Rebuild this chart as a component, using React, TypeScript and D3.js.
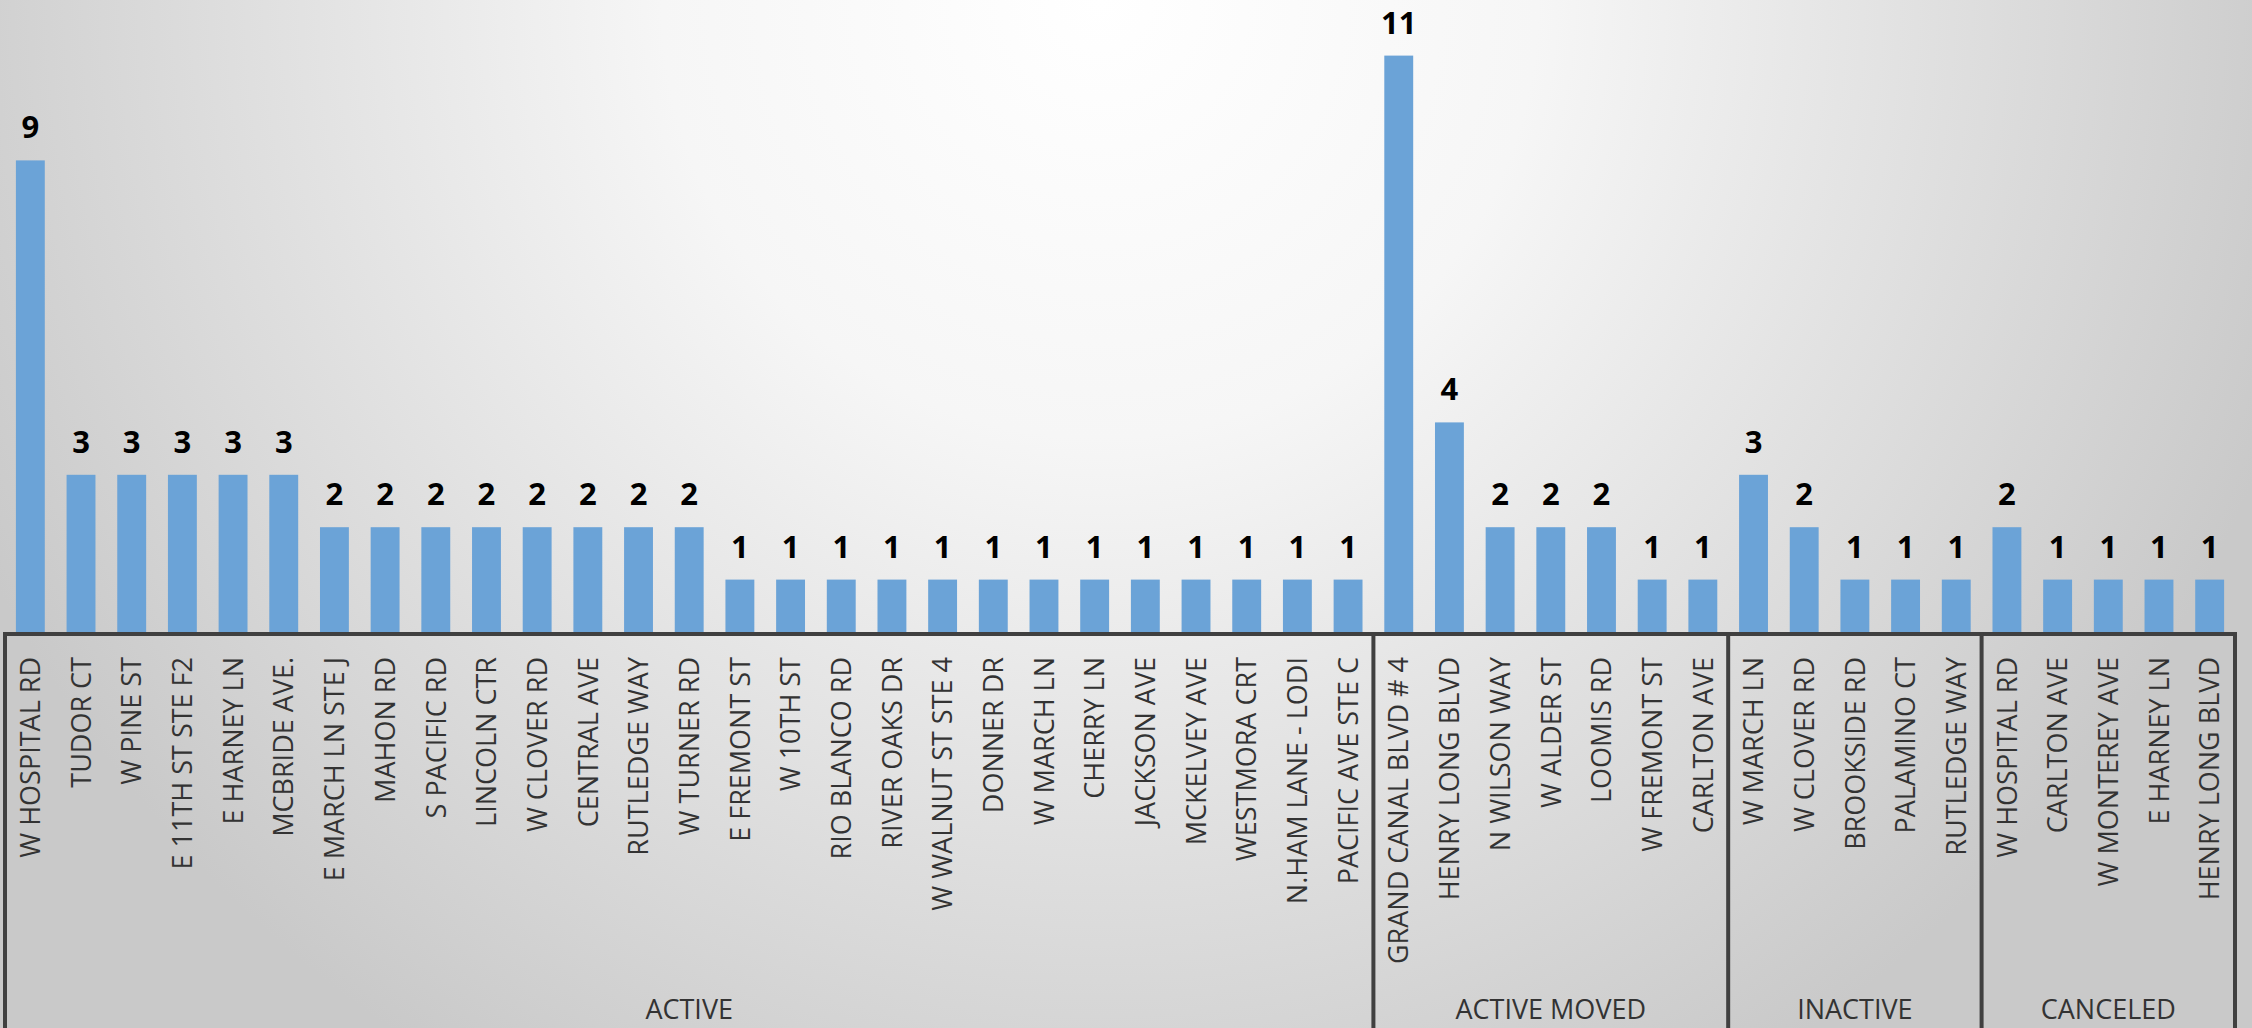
import React from "react";
import * as d3 from "d3";

const groups = ["ACTIVE", "ACTIVE MOVED", "INACTIVE", "CANCELED"];

const activeStreets = [
  "W HOSPITAL RD", "TUDOR CT", "W PINE ST", "E 11TH ST STE F2", "E HARNEY LN", "MCBRIDE AVE.",
  "E MARCH LN STE J", "MAHON RD", "S PACIFIC RD", "LINCOLN CTR", "W CLOVER RD", "CENTRAL AVE",
  "RUTLEDGE WAY", "W TURNER RD", "E FREMONT ST", "W 10TH ST", "RIO BLANCO RD", "RIVER OAKS DR",
  "W WALNUT ST STE 4", "DONNER DR", "W MARCH LN", "CHERRY LN", "JACKSON AVE", "MCKELVEY AVE",
  "WESTMORA CRT", "N.HAM LANE - LODI", "PACIFIC AVE STE C",
];
const activeValues = [9, 3, 3, 3, 3, 3, 2, 2, 2, 2, 2, 2, 2, 2, 1, 1, 1, 1, 1, 1, 1, 1, 1, 1, 1, 1, 1];

const movedStreets = ["GRAND CANAL BLVD # 4", "HENRY LONG BLVD", "N WILSON WAY", "W ALDER ST", "LOOMIS RD", "W FREMONT ST", "CARLTON AVE"];
const movedValues = [11, 4, 2, 2, 2, 1, 1];

const inactiveStreets = ["W MARCH LN", "W CLOVER RD", "BROOKSIDE RD", "PALAMINO CT", "RUTLEDGE WAY"];
const inactiveValues = [3, 2, 1, 1, 1];

const canceledStreets = ["W HOSPITAL RD", "CARLTON AVE", "W MONTEREY AVE", "E HARNEY LN", "HENRY LONG BLVD"];
const canceledValues = [2, 1, 1, 1, 1];

const streetsByGroup = [activeStreets, movedStreets, inactiveStreets, canceledStreets];
const valuesByGroup = [activeValues, movedValues, inactiveValues, canceledValues];

type Row = { key: string; group: string; street: string; value: number };
const rows: Row[] = [];
groups.forEach((g, gi) => {
  streetsByGroup[gi].forEach((s, i) => {
    rows.push({ key: `${g}|${i}`, group: g, street: s, value: valuesByGroup[gi][i] });
  });
});

const W = 2252;
const H = 1028;
const left = 5;
const right = 2235;
const axisY = 632;
const FONT = "'Open Sans', 'Noto Sans', sans-serif";

export default function App() {
  const x = d3
    .scaleBand<string>()
    .domain(rows.map((r) => r.key))
    .range([left, right])
    .paddingInner(0.43)
    .paddingOuter(0.215);
  const y = d3.scaleLinear().domain([0, 12]).range([axisY, axisY - 12 * 52.4]);
  const step = x.step();

  const bounds: { name: string; x0: number; x1: number }[] = [];
  let idx = 0;
  groups.forEach((g, gi) => {
    const n = streetsByGroup[gi].length;
    const x0 = left + idx * step;
    const x1 = left + (idx + n) * step;
    bounds.push({ name: g, x0, x1 });
    idx += n;
  });
  const separators = [bounds[0].x0, ...bounds.map((b) => b.x1)];

  return (
    <svg
      width={W}
      height={H}
      style={{ position: "absolute", left: 0, top: 0, display: "block" }}
      fontFamily={FONT}
    >
      <defs>
        <radialGradient id="bg" gradientUnits="userSpaceOnUse" cx={1100} cy={0} r={1250}>
          <stop offset="0" stopColor="#ffffff" />
          <stop offset="0.35" stopColor="#f6f6f6" />
          <stop offset="1" stopColor="#c9c9c9" />
        </radialGradient>
      </defs>
      <rect x={0} y={0} width={W} height={H} fill="url(#bg)" />

      {rows.map((r) => (
        <rect
          key={r.key}
          x={x(r.key)}
          y={y(r.value)}
          width={x.bandwidth()}
          height={y(0) - y(r.value)}
          fill="#6ba3d7"
        />
      ))}

      {rows.map((r) => (
        <text
          key={"v" + r.key}
          x={(x(r.key) as number) + x.bandwidth() / 2}
          y={y(r.value) - 22}
          textAnchor="middle"
          fontSize={31}
          fontWeight="bold"
          fill="#000"
        >
          {r.value}
        </text>
      ))}

      {rows.map((r) => {
        const cx = (x(r.key) as number) + x.bandwidth() / 2;
        return (
          <text
            key={"l" + r.key}
            transform={`translate(${cx},657) rotate(-90)`}
            textAnchor="end"
            dy="0.36em"
            fontSize={27}
            fill="#333"
          >
            {r.street}
          </text>
        );
      })}

      <line x1={left - 2} x2={right + 2} y1={axisY + 2} y2={axisY + 2} stroke="#404040" strokeWidth={4} />
      {separators.map((sx, i) => (
        <line key={"s" + i} x1={sx} x2={sx} y1={axisY} y2={H} stroke="#404040" strokeWidth={4} />
      ))}

      {bounds.map((b) => (
        <text
          key={"g" + b.name}
          x={(b.x0 + b.x1) / 2}
          y={1019}
          textAnchor="middle"
          fontSize={27}
          fill="#333"
        >
          {b.name}
        </text>
      ))}
    </svg>
  );
}
